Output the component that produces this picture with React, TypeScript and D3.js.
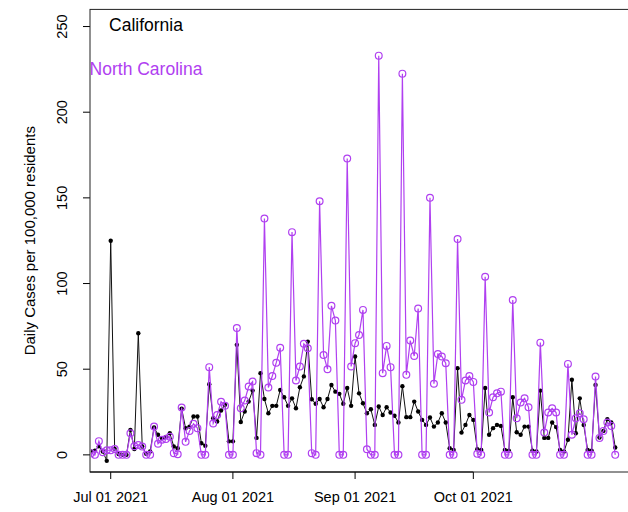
import React from 'react';
import * as d3 from 'd3';

// daily series, Jun 26 2021 .. Nov 6 2021
const firstDay = Date.UTC(2021, 5, 26);

const california = [
  2, 2.5, 5, 2, -3.5, 125, 3.5, 0.5, 0, 0,
  14.6, 3.4, 71, 4.9, 0.6, 2, 16, 11.7, 9.8, 10.4,
  12.6, 4.9, 3.9, 27, 15.5, 16.5, 22.4, 22.4, 6.8, 5.3,
  41.2, 21.4, 19.5, 25.9, 29.2, 7.9, 7.9, 64.2, 19.2, 25.3,
  31.1, 37.5, 9.9, 47.7, 32.6, 24.3, 28.6, 28.6, 37.9, 33.6,
  28.6, 33, 27.2, 39.5, 45.8, 66.1, 32.5, 29.8, 32.6, 27.8,
  32.6, 40.8, 36.9, 35.6, 29.8, 39, 28.6, 57.4, 35.9, 30.1,
  24.3, 26.6, 17.5, 28.2, 23.3, 27.8, 24.7, 22.8, 18.9, 40.1,
  22, 22, 31.1, 25.3, 20.4, 17.5, 21.8, 16.5, 18.9, 24.3,
  18.9, 3.9, 2.9, 50.6, 13, 17.5, 23.3, 20.4, 3.3, 2.9,
  39, 11.7, 15.6, 17.5, 16.9, 2.9, 2.5, 33.6, 13.2, 11.7,
  16.5, 16.5, 2.5, 2, 37.5, 9.9, 9.9, 18.9, 16.2, 2.9,
  2, 8.8, 43.8, 12.6, 33, 17.5, 2.9, 2.5, 40.8, 10.1,
  14, 20.8, 18.9, 4.3,
];

const northCarolina = [
  1, 0, 8, 1.5, 2.7, 2.7, 3.4, 0, 0, 0,
  12.6, 5, 5.8, 4.9, 0, 0, 16.5, 6.5, 8.8, 9.2,
  10.6, 1, 0.4, 27.6, 7.6, 14, 18.1, 15.6, 0, 0,
  51.2, 18.3, 23.2, 31, 28.6, 0, 0, 74, 27.2, 31.7,
  39.9, 42.8, 1, 0, 138, 39.3, 46, 53.8, 62.5, 0,
  0, 130, 43.4, 51.6, 64.8, 62.2, 1, 0, 148, 58.3,
  50, 87, 78.4, 0, 0, 173, 51.6, 65.2, 70, 84.6,
  3.3, 0, 0, 233, 47.7, 63.6, 51.2, 0, 0, 222.5,
  46.7, 66.7, 57.7, 85.4, 0, 0, 150, 41.5, 58.9, 57.4,
  53.5, 0, 0, 126, 32.1, 43.4, 46, 42.6, 0.6, 0,
  104, 24.7, 33.6, 35.9, 36.9, 0, 0, 90.4, 21.4, 30.5,
  33, 27.8, 0, 0, 65.5, 13, 24.7, 27.2, 24.7, 0,
  0, 53.1, 11.7, 21.4, 24.3, 20.8, 0, 0, 45.7, 9.9,
  14, 18.9, 16.9, 0,
];

const xTickDates = [Date.UTC(2021, 6, 1), Date.UTC(2021, 7, 1), Date.UTC(2021, 8, 1), Date.UTC(2021, 9, 1)];
const xTickLabels = ['Jul 01 2021', 'Aug 01 2021', 'Sep 01 2021', 'Oct 01 2021'];
const yTicks = [0, 50, 100, 150, 200, 250];
const seriesNames = ['California', 'North Carolina'];

const PURPLE = '#B040F0';
const FONT = '"Liberation Sans", Arial, Helvetica, sans-serif';

export default function App() {
  const W = 628, H = 512;
  const left = 90, top = 9.4, bottom = 472, right = 631;

  const days = california.map((_, i) => d3.utcDay.offset(new Date(firstDay), i));
  const x = d3.scaleUtc()
    .domain([new Date(firstDay), d3.utcDay.offset(new Date(firstDay), 137)])
    .range([91, right]);
  const y = d3.scaleLinear().domain([-10, 260]).range([bottom, top]);

  const line = d3.line<number>()
    .x((_, i) => x(days[i]))
    .y(d => y(d));

  return (
    <svg width={W} height={H} style={{ position: 'absolute', left: 0, top: 0, background: '#fff' }}
      fontFamily={FONT}>
      <defs>
        <clipPath id="plotArea">
          <rect x={left + 1} y={top} width={right - left} height={bottom - top} />
        </clipPath>
      </defs>

      {/* y axis */}
      {yTicks.map(t => (
        <g key={t}>
          <line x1={left - 7} x2={left} y1={y(t)} y2={y(t)} stroke="#000" />
          <text transform={`translate(${left - 23},${y(t)}) rotate(-90)`} textAnchor="middle"
            fontSize={14.5} fill="#000">{t}</text>
        </g>
      ))}
      <text transform={`translate(35,${(top + bottom) / 2}) rotate(-90)`} textAnchor="middle"
        fontSize={15} fill="#000">Daily Cases per 100,000 residents</text>

      {/* x axis */}
      {xTickDates.map((t, i) => (
        <g key={t}>
          <line x1={x(new Date(t))} x2={x(new Date(t))} y1={bottom} y2={bottom + 7} stroke="#000" />
          <text x={x(new Date(t))} y={bottom + 30} textAnchor="middle" fontSize={14.5} fill="#000">
            {xTickLabels[i]}
          </text>
        </g>
      ))}

      <g clipPath="url(#plotArea)">
        <path d={line(california) || ''} fill="none" stroke="#111" strokeWidth={1} />
        {california.map((v, i) => (
          <circle key={'c' + i} cx={x(days[i])} cy={y(v)} r={2.2} fill="#000" />
        ))}
        <path d={line(northCarolina) || ''} fill="none" stroke={PURPLE} strokeWidth={1.2} />
        {northCarolina.map((v, i) => (
          <circle key={'n' + i} cx={x(days[i])} cy={y(v)} r={3.4} fill="none" stroke={PURPLE} strokeWidth={1.2} />
        ))}

        <text x={146} y={31} textAnchor="middle" fontSize={17.5} fill="#000">{seriesNames[0]}</text>
        <text x={146} y={75} textAnchor="middle" fontSize={17.5} fill={PURPLE}>{seriesNames[1]}</text>
      </g>

      <rect x={left} y={top} width={right - left} height={bottom - top} fill="none" stroke="#222" strokeWidth={1} />
      <line x1={left} x2={x(new Date(xTickDates[3]))} y1={bottom} y2={bottom} stroke="#000" strokeWidth={1.2} />
    </svg>
  );
}
